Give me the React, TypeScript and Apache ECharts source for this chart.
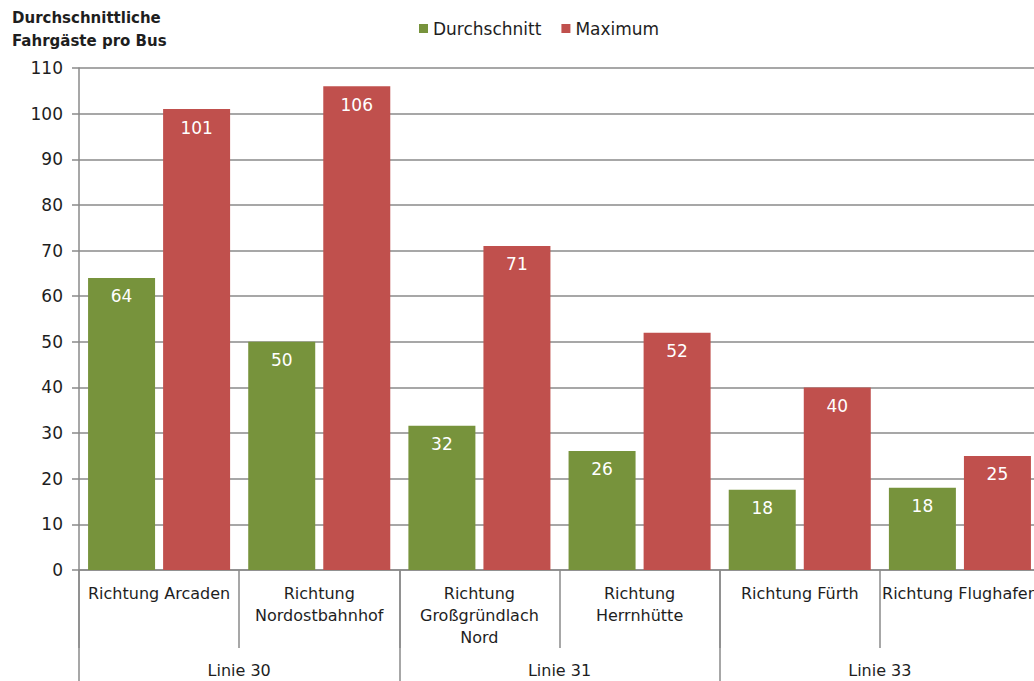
import React, { useEffect, useRef } from "react";
import * as echarts from "echarts";

const categories = [
  "Richtung Arcaden",
  "Richtung\nNordostbahnhof",
  "Richtung\nGroßgründlach\nNord",
  "Richtung\nHerrnhütte",
  "Richtung Fürth",
  "Richtung Flughafen",
];
const groups = ["Linie 30", "Linie 31", "Linie 33"];
const durchschnitt = [64, 50, 31.6, 26.1, 17.6, 18];
const maximum = [101, 106, 71, 52, 40, 25];
const yTicks = { min: 0, max: 110, interval: 10 };

const FONT = "DejaVu Sans";
const TEXT = "#1e1e1e";
const GRAY = "#8a8a8a";

export default function App() {
  const ref = useRef<HTMLDivElement>(null);
  useEffect(() => {
    if (!ref.current) return;
    const chart = echarts.init(ref.current, undefined, { renderer: "svg" });
    chart.setOption({
      animation: false,
      backgroundColor: "#ffffff",
      textStyle: { fontFamily: FONT },
      title: {
        text: "Durchschnittliche\nFahrgäste pro Bus",
        left: 12,
        top: 6,
        padding: 0,
        textStyle: {
          fontFamily: FONT,
          fontSize: 15,
          fontWeight: "bold",
          color: TEXT,
          lineHeight: 23,
        },
      },
      legend: {
        left: 419,
        top: 20,
        padding: 0,
        itemWidth: 9,
        itemHeight: 9,
        itemGap: 20,
        icon: "rect",
        textStyle: { fontFamily: FONT, fontSize: 17, color: TEXT },
        data: ["Durchschnitt", "Maximum"],
      },
      grid: { left: 79, top: 68, width: 961, height: 502, containLabel: false },
      xAxis: [
        {
          type: "category",
          data: categories,
          position: "bottom",
          axisLine: { show: true, lineStyle: { color: GRAY, width: 1.5 } },
          axisTick: {
            show: true,
            interval: 0,
            length: 78,
            lineStyle: { color: GRAY, width: 1.5 },
          },
          axisLabel: {
            interval: 0,
            margin: 12,
            fontFamily: FONT,
            fontSize: 16,
            lineHeight: 22,
            color: TEXT,
            align: "center",
          },
        },
        {
          type: "category",
          data: groups,
          position: "bottom",
          gridIndex: 0,
          axisLine: { show: false },
          axisTick: {
            show: true,
            interval: 0,
            length: 120,
            lineStyle: { color: GRAY, width: 1.5 },
          },
          axisLabel: {
            interval: 0,
            margin: 89,
            fontFamily: FONT,
            fontSize: 16,
            lineHeight: 22,
            color: TEXT,
          },
        },
      ],
      yAxis: {
        type: "value",
        min: yTicks.min,
        max: yTicks.max,
        interval: yTicks.interval,
        axisLine: { show: true, lineStyle: { color: GRAY, width: 1.5 } },
        axisTick: { show: true, length: 7, lineStyle: { color: GRAY, width: 1.5 } },
        axisLabel: {
          margin: 16,
          fontFamily: FONT,
          fontSize: 17,
          color: TEXT,
        },
        splitLine: { show: true, lineStyle: { color: GRAY, width: 1.5 } },
      },
      series: [
        {
          name: "Durchschnitt",
          type: "bar",
          xAxisIndex: 0,
          data: durchschnitt,
          barWidth: 67,
          barGap: "12%",
          itemStyle: { color: "#77933C" },
          label: {
            show: true,
            position: "insideTop",
            distance: 10,
            color: "#ffffff",
            fontFamily: FONT,
            fontSize: 17,
            formatter: (p: any) => String(Math.round(p.value)),
          },
        },
        {
          name: "Maximum",
          type: "bar",
          xAxisIndex: 0,
          data: maximum,
          barWidth: 67,
          barGap: "12%",
          itemStyle: { color: "#C0504D" },
          label: {
            show: true,
            position: "insideTop",
            distance: 10,
            color: "#ffffff",
            fontFamily: FONT,
            fontSize: 17,
            formatter: (p: any) => String(Math.round(p.value)),
          },
        },
      ],
    });
    return () => chart.dispose();
  }, []);
  return (
    <div
      style={{
        position: "absolute",
        left: 0,
        top: 0,
        width: 1034,
        height: 681,
        overflow: "hidden",
        background: "#ffffff",
      }}
    >
      <div ref={ref} style={{ width: 1046, height: 681 }} />
    </div>
  );
}
